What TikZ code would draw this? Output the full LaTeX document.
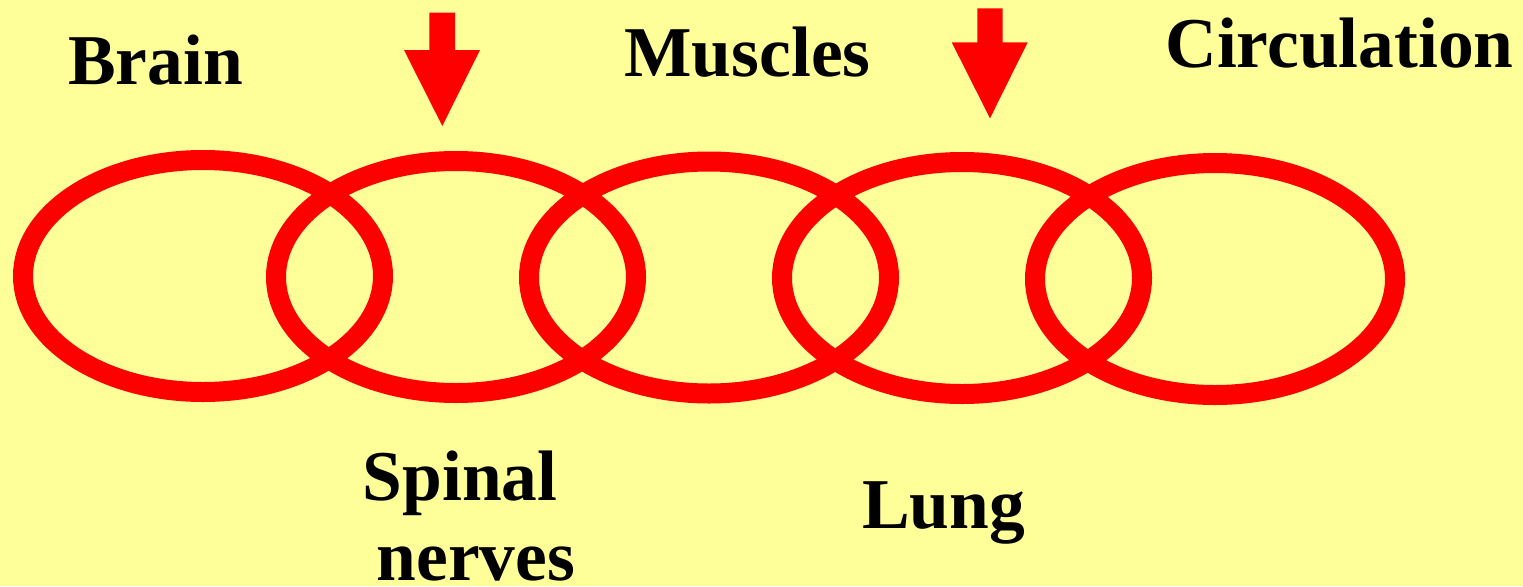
\documentclass[tikz,border=0pt]{standalone}
\usepackage{fontspec}
\setmainfont{Liberation Serif}
\definecolor{bgyellow}{HTML}{FFFF99}
\definecolor{ringred}{HTML}{FF0000}
\tikzset{
  ring/.style={draw=ringred, line width=15pt},
  downarrow/.style={fill=ringred, draw=none},
  label/.style={inner sep=0pt, outer sep=0pt, font=\bfseries\fontsize{53.6}{60}\selectfont, text=black},
}
\begin{document}
\begin{tikzpicture}[x=0.75pt, y=-0.75pt]
\fill[bgyellow] (0,0) rectangle (1523,586);
\useasboundingbox (0,0) rectangle (1523,586);
% rings
\draw[ring] (203,276) ellipse [x radius=135pt, y radius=87pt];
\draw[ring] (456,277) ellipse [x radius=135pt, y radius=87pt];
\draw[ring] (709,277.5) ellipse [x radius=135pt, y radius=87pt];
\draw[ring] (962,278) ellipse [x radius=135pt, y radius=87pt];
\draw[ring] (1215,279) ellipse [x radius=135pt, y radius=87pt];
% arrows
\fill[downarrow] (429.3,12.7) -- (455,12.7) -- (455,50) -- (480,50) -- (442.3,126) -- (404,50) -- (429.3,50) -- cycle;
\fill[downarrow] (977.3,8.3) -- (1002.7,8.3) -- (1002.7,42.3) -- (1027.7,42.3) -- (990,118.3) -- (951.7,42.3) -- (977.3,42.3) -- cycle;
% labels
\node[label, anchor=base] (brain) at (155.5,84) {Brain};
\node[label, anchor=base] (muscles) at (747.5,76) {Muscles};
\node[label, anchor=base] (circ) at (1339.5,67) {Circulation};
\node[label, anchor=base] (lung) at (943.5,528) {Lung};
\node[label, anchor=base, align=center] (spinal) at (476,580) {Spinal\hspace*{24pt}\\nerves};
\end{tikzpicture}
\end{document}
